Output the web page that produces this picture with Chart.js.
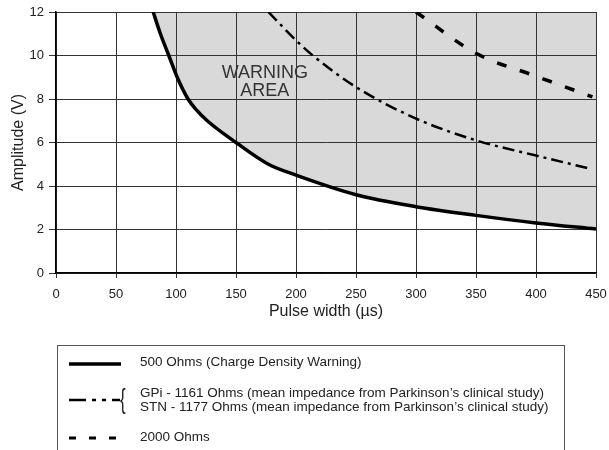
<!DOCTYPE html>
<html>
<head>
<meta charset="utf-8">
<script src="https://cdn.jsdelivr.net/npm/chart.js@4"></script>
<style>
html, body { margin: 0; padding: 0; background: #fff; }
#wrap { width: 609px; height: 450px; }
</style>
</head>
<body>
<div id="wrap"><canvas id="pulse"></canvas></div>
<script>
// values
var pw500 = [81, 87, 94, 101, 110, 117, 126, 150, 177, 200, 250, 300, 350, 400, 450];
var amp500 = [12, 11, 10, 9, 8, 7.5, 7, 6, 5, 4.5, 3.6, 3.05, 2.65, 2.3, 2.02];
var pwGpi = [177, 200, 214, 250, 300, 350, 400, 446];
var ampGpi = [12, 10.7, 10, 8.55, 7.1, 6.1, 5.4, 4.78];
var pw2000 = [300, 350, 400, 447];
var amp2000 = [12, 10.1, 9.05, 8.1];
var warnText = ["WARNING", "AREA"];
var warnAt = [174, 8.8];
var legendRows = [
    ["500 Ohms (Charge Density Warning)"],
    ["GPi - 1161 Ohms (mean impedance from Parkinson\u2019s clinical study)",
     "STN - 1177 Ohms (mean impedance from Parkinson\u2019s clinical study)"],
    ["2000 Ohms"]
];

function pts(xs, ys) {
    return xs.map(function (x, i) { return { x: x, y: ys[i] }; });
}

var FONT = "'Liberation Sans', Arial, sans-serif";

var warningLabel = {
    id: 'warningLabel',
    afterDatasetsDraw: function (chart) {
        var ctx = chart.ctx;
        var cx = chart.scales.x.getPixelForValue(warnAt[0]);
        var cy = chart.scales.y.getPixelForValue(warnAt[1]);
        ctx.save();
        ctx.font = '18px ' + FONT;
        ctx.fillStyle = '#333';
        ctx.textAlign = 'center';
        ctx.textBaseline = 'middle';
        ctx.fillText(warnText[0], cx, cy - 9);
        ctx.fillText(warnText[1], cx, cy + 9);
        ctx.restore();
    }
};

var legendBox = {
    id: 'legendBox',
    afterDraw: function (chart) {
        var ctx = chart.ctx;
        ctx.save();
        ctx.strokeStyle = '#555';
        ctx.lineWidth = 1;
        ctx.strokeRect(57.5, 345.5, 507, 120);

        ctx.strokeStyle = '#000';
        // solid
        ctx.lineWidth = 3.5;
        ctx.setLineDash([]);
        ctx.beginPath(); ctx.moveTo(69, 364); ctx.lineTo(121, 364); ctx.stroke();
        // dash dot
        ctx.lineWidth = 2.5;
        ctx.setLineDash([17, 6, 4, 6, 4, 6, 19]);
        ctx.beginPath(); ctx.moveTo(69, 400); ctx.lineTo(120, 400); ctx.stroke();
        // dashed
        ctx.lineWidth = 3;
        ctx.setLineDash([7, 13]);
        ctx.beginPath(); ctx.moveTo(69, 438); ctx.lineTo(121, 438); ctx.stroke();
        ctx.setLineDash([]);

        ctx.fillStyle = '#222';
        ctx.textBaseline = 'middle';
        ctx.font = '28px ' + FONT;
        ctx.save();
        ctx.translate(120, 400);
        ctx.scale(0.6, 1);
        ctx.fillText('{', 0, 0);
        ctx.restore();

        ctx.font = '13.5px ' + FONT;
        ctx.fillText(legendRows[0][0], 140, 362);
        ctx.fillText(legendRows[1][0], 140, 393);
        ctx.fillText(legendRows[1][1], 140, 407);
        ctx.fillText(legendRows[2][0], 140, 437);
        ctx.restore();
    }
};

new Chart(document.getElementById('pulse'), {
    type: 'line',
    data: {
        datasets: [{
            label: '500 Ohms',
            data: pts(pw500, amp500),
            borderColor: '#000',
            borderWidth: 3.5,
            backgroundColor: '#d9d9d9',
            fill: 'end',
            pointRadius: 0,
            cubicInterpolationMode: 'monotone'
        }, {
            label: 'GPi / STN',
            data: pts(pwGpi, ampGpi),
            borderColor: '#000',
            borderWidth: 2.5,
            borderDash: [12, 5, 3, 5],
            fill: false,
            pointRadius: 0,
            cubicInterpolationMode: 'monotone'
        }, {
            label: '2000 Ohms',
            data: pts(pw2000, amp2000),
            borderColor: '#000',
            borderWidth: 3.5,
            borderDash: [10, 14],
            fill: false,
            pointRadius: 0,
            cubicInterpolationMode: 'monotone'
        }]
    },
    options: {
        responsive: true,
        maintainAspectRatio: false,
        animation: false,
        layout: { padding: { top: 12, right: 13, bottom: 127, left: 0 } },
        plugins: {
            legend: { display: false },
            tooltip: { enabled: false },
            filler: { drawTime: 'beforeDraw' }
        },
        scales: {
            x: {
                type: 'linear',
                min: 0,
                max: 450,
                afterFit: function (s) { s.height = 50; s.paddingLeft = 0; s.paddingRight = 0; },
                ticks: { stepSize: 50, color: '#222', font: { family: FONT, size: 13 }, padding: 9 },
                grid: { color: '#333', lineWidth: 1, tickLength: 5 },
                border: { color: '#000', width: 1.5 },
                title: { display: true, text: 'Pulse width (\u00b5s)', color: '#222', font: { family: FONT, size: 16 }, padding: 2 }
            },
            y: {
                min: 0,
                max: 12,
                afterFit: function (s) { s.width = 56; s.paddingTop = 0; s.paddingBottom = 0; },
                ticks: { stepSize: 2, color: '#222', font: { family: FONT, size: 13 }, padding: 5 },
                grid: { color: '#333', lineWidth: 1, tickLength: 7 },
                border: { color: '#000', width: 1.5 },
                title: { display: true, text: 'Amplitude (V)', color: '#222', font: { family: FONT, size: 16 }, padding: { top: 9, bottom: 4 } }
            }
        }
    },
    plugins: [warningLabel, legendBox]
});
</script>
</body>
</html>
